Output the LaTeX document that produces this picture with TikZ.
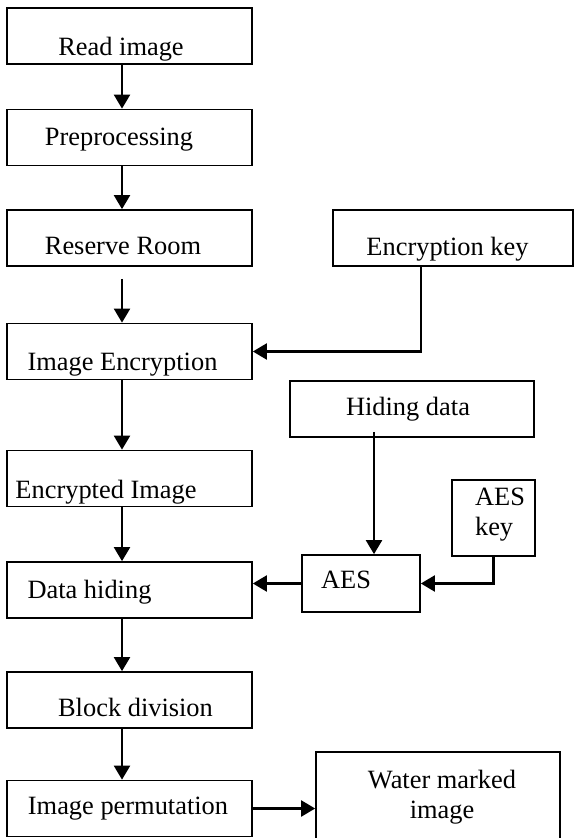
\documentclass[tikz,border=0pt]{standalone}
\usepackage{fontspec}
\setmainfont{Liberation Serif}
\usetikzlibrary{arrows.meta}
\begin{document}
\begin{tikzpicture}[x=0.5pt,y=-0.5pt,
  every node/.style={font=\fontsize{13.2}{15}\selectfont},
  box/.style={draw,line width=0.85pt,minimum width=122.5pt,minimum height=28pt,inner sep=0pt},
  arr/.style={line width=1.1pt,-{Triangle[length=7pt,width=8pt]}}]
\useasboundingbox (0,0) rectangle (574,838);
% main column
\node[box,label={[shift={(-4.25pt,-6.5pt)}]center:Read image}] (read) at (129.5,36) {};
\node[box,label={[shift={(-5.25pt,-1.25pt)}]center:Preprocessing}] (prep) at (129.5,137.5) {};
\node[box,label={[shift={(-3.25pt,-4pt)}]center:Reserve Room}] (reserve) at (129.5,238) {};
\node[box,label={[shift={(-3.5pt,-6.75pt)}]center:Image Encryption}] (imgenc) at (129.5,351.5) {};
\node[box,label={[shift={(-11.75pt,-6.75pt)}]center:Encrypted Image}] (encimg) at (129.5,478.5) {};
\node[box,label={[shift={(-20pt,-1pt)}]center:Data hiding}] (hide) at (129.5,590) {};
\node[box,label={[shift={(3pt,-3.5pt)}]center:Block division}] (block) at (129.5,700) {};
\node[box,label={[shift={(-0.75pt,0pt)}]center:Image permutation}] (perm) at (129.5,808.5) {};
% side boxes
\node[box,minimum width=120pt,label={[shift={(-2.75pt,-5.5pt)}]center:Encryption key}] (enckey) at (453,238) {};
\node[box,minimum width=122pt,label={[shift={(-2pt,0pt)}]center:Hiding data}] (hdata) at (412,409) {};
\node[box,minimum width=41.5pt,minimum height=38pt,label={[shift={(3.25pt,1.75pt)},align=left]center:AES\\key}] (aeskey) at (493.5,518) {};
\node[box,minimum width=59pt,minimum height=28.5pt,label={[shift={(-7.5pt,1.75pt)}]center:AES}] (aes) at (361,583.5) {};
\node[box,minimum width=122pt,minimum height=45pt,label={[shift={(2pt,0pt)},align=center]center:Water marked\\image}] (water) at (438,797) {};
% connectors
\coordinate (col) at (122,0);
\draw[arr] (read.south -| col) -- (prep.north -| col);
\draw[arr] (prep.south -| col) -- (reserve.north -| col);
\draw[arr] (reserve.south -| col) ++(0,12) -- (imgenc.north -| col);
\draw[arr] (imgenc.south -| col) -- (encimg.north -| col);
\draw[arr] (encimg.south -| col) -- (hide.north -| col);
\draw[arr] (hide.south -| col) -- (block.north -| col);
\draw[arr] (block.south -| col) -- (perm.north -| col);
\draw[arr] ([xshift=-16pt]enckey.south) |- (imgenc.east);
\coordinate (hd) at ([xshift=6.5pt]aes.north);
\draw[arr] (hd |- hdata.south) ++(0,-6) -- (hd);
\draw[arr] (aeskey.south) |- (aes.east);
\draw[arr] (aes.west) -- (aes.west -| hide.east);
\draw[arr] (perm.east) -- (perm.east -| water.west);
\end{tikzpicture}
\end{document}
